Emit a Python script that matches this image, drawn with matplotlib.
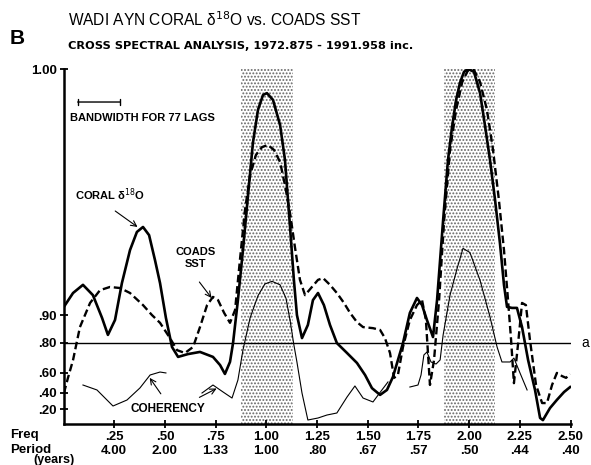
import numpy as np
import matplotlib
matplotlib.use("Agg")
import matplotlib.pyplot as plt

plt.rcParams['font.family'] = ['Liberation Sans', 'DejaVu Sans']
plt.rcParams['hatch.color'] = '#555555'
plt.rcParams['hatch.linewidth'] = 0.9

# ---------------- data ----------------
coral_f = [0.002, 0.047, 0.096, 0.145, 0.190, 0.219, 0.254, 0.288, 0.328, 0.362, 0.392, 0.422, 0.451,
           0.476, 0.505, 0.535, 0.565, 0.614, 0.673, 0.737, 0.772, 0.796, 0.821, 0.836, 0.860, 0.885,
           0.910, 0.934, 0.959, 0.984, 1.003, 1.033, 1.068, 1.092, 1.117, 1.136, 1.151, 1.176, 1.205,
           1.230, 1.255, 1.284, 1.314, 1.348, 1.398, 1.447, 1.487, 1.521, 1.561, 1.595, 1.624, 1.649,
           1.674, 1.708, 1.743, 1.768, 1.792, 1.822, 1.842, 1.872, 1.896, 1.916, 1.936, 1.955, 1.975,
           1.995, 2.024, 2.054, 2.078, 2.103, 2.128, 2.152, 2.172, 2.187, 2.211, 2.236, 2.261, 2.291,
           2.325, 2.350, 2.364, 2.399, 2.433, 2.468, 2.498]
coral_p = [0.330, 0.369, 0.392, 0.363, 0.299, 0.251, 0.293, 0.397, 0.490, 0.541, 0.555, 0.532, 0.462,
           0.397, 0.299, 0.217, 0.189, 0.197, 0.203, 0.189, 0.166, 0.141, 0.175, 0.228, 0.349, 0.490,
           0.645, 0.792, 0.885, 0.927, 0.932, 0.913, 0.842, 0.744, 0.555, 0.406, 0.307, 0.242, 0.279,
           0.349, 0.369, 0.335, 0.279, 0.228, 0.200, 0.172, 0.138, 0.101, 0.082, 0.096, 0.132, 0.180,
           0.228, 0.313, 0.355, 0.335, 0.293, 0.245, 0.349, 0.575, 0.744, 0.837, 0.913, 0.961, 0.992,
           1.000, 0.992, 0.932, 0.842, 0.744, 0.631, 0.510, 0.392, 0.330, 0.327, 0.327, 0.273, 0.180,
           0.096, 0.017, 0.011, 0.045, 0.068, 0.090, 0.104]

sst_f = [0.002, 0.022, 0.047, 0.081, 0.131, 0.180, 0.229, 0.279, 0.328, 0.392, 0.436, 0.476, 0.525,
         0.560, 0.599, 0.639, 0.673, 0.708, 0.737, 0.762, 0.792, 0.821, 0.846, 0.870, 0.895, 0.920,
         0.949, 0.979, 1.008, 1.038, 1.068, 1.092, 1.117, 1.141, 1.166, 1.191, 1.225, 1.255, 1.280,
         1.314, 1.348, 1.383, 1.413, 1.447, 1.477, 1.526, 1.561, 1.585, 1.610, 1.630, 1.649, 1.674,
         1.708, 1.743, 1.768, 1.787, 1.807, 1.827, 1.852, 1.877, 1.906, 1.936, 1.966, 1.995, 2.024,
         2.054, 2.088, 2.118, 2.147, 2.172, 2.192, 2.207, 2.221, 2.241, 2.261, 2.280, 2.300, 2.330,
         2.360, 2.384, 2.409, 2.433, 2.458, 2.478, 2.498]
sst_p = [0.087, 0.130, 0.180, 0.273, 0.341, 0.377, 0.386, 0.383, 0.369, 0.335, 0.307, 0.285, 0.242,
         0.208, 0.200, 0.217, 0.273, 0.335, 0.358, 0.349, 0.313, 0.285, 0.321, 0.462, 0.603, 0.701,
         0.758, 0.780, 0.786, 0.772, 0.738, 0.673, 0.594, 0.499, 0.406, 0.363, 0.386, 0.406, 0.411,
         0.392, 0.369, 0.341, 0.313, 0.287, 0.273, 0.270, 0.265, 0.242, 0.200, 0.130, 0.138, 0.217,
         0.293, 0.335, 0.349, 0.293, 0.110, 0.180, 0.349, 0.575, 0.772, 0.885, 0.963, 0.997, 0.997,
         0.963, 0.885, 0.772, 0.631, 0.490, 0.349, 0.237, 0.115, 0.223, 0.341, 0.335, 0.237, 0.110,
         0.059, 0.059, 0.110, 0.144, 0.135, 0.130, 0.141]

coh1_f = [0.096, 0.165, 0.244, 0.313, 0.377, 0.427, 0.476, 0.505]
coh1_c = [0.484, 0.431, 0.239, 0.314, 0.453, 0.581, 0.607, 0.599]

coh2_f = [0.683, 0.737, 0.787, 0.831, 0.860, 0.885, 0.920, 0.959, 0.993, 1.028, 1.068, 1.097, 1.117,
          1.136, 1.151, 1.176, 1.205, 1.255, 1.299, 1.348, 1.398, 1.437, 1.477, 1.526, 1.570, 1.600]
coh2_c = [0.397, 0.484, 0.408, 0.338, 0.534, 0.763, 0.893, 0.940, 0.956, 0.959, 0.955, 0.936, 0.887,
          0.790, 0.686, 0.397, 0.054, 0.081, 0.121, 0.148, 0.350, 0.474, 0.338, 0.290, 0.431, 0.515]

coh3_f = [1.708, 1.748, 1.763, 1.777, 1.792, 1.812, 1.837, 1.857, 1.872, 1.906, 1.941, 1.970, 2.004,
          2.054, 2.103, 2.138, 2.162, 2.202, 2.221, 2.251, 2.286]
coh3_c = [0.463, 0.484, 0.581, 0.733, 0.751, 0.686, 0.671, 0.700, 0.836, 0.941, 0.971, 0.983, 0.981,
          0.960, 0.896, 0.779, 0.686, 0.686, 0.713, 0.599, 0.431]

bands = [(0.874, 1.130), (1.876, 2.128)]
signif_level = 0.80
coh_ticks = [0.20, 0.40, 0.60, 0.80, 0.90]
coh_ticklabels = ['.20', '.40', '.60', '.80', '.90']
freq_ticks = [0.25, 0.50, 0.75, 1.00, 1.25, 1.50, 1.75, 2.00, 2.25, 2.50]
freq_labels = ['.25', '.50', '.75', '1.00', '1.25', '1.50', '1.75', '2.00', '2.25', '2.50']
period_labels = ['4.00', '2.00', '1.33', '1.00', '.80', '.67', '.57', '.50', '.44', '.40']

# coherency is drawn on an arctanh (z) scale; top of plot = spectral 1.00
ZTOP = 4.81
def cz(c):
    return np.arctanh(np.asarray(c)) / ZTOP

# ---------------- figure ----------------
fig = plt.figure(figsize=(5.91, 4.65), dpi=100)
ax = fig.add_axes([63.5 / 591, 41 / 465, 507 / 591, 355 / 465])
ax.set_xlim(0, 2.5)
ax.set_ylim(0, 1.0)

for (a, b) in bands:
    ax.fill_between([a, b], 0, 1.0, facecolor='white', edgecolor='#666666',
                    hatch='.....', linewidth=0, zorder=0)

ax.axhline(cz(signif_level), xmin=0, xmax=1.0, color='black', lw=1.0, zorder=2)
ax.text(2.555, cz(signif_level), 'a', fontsize=10, va='center', ha='left', clip_on=False)

ax.plot(coral_f, coral_p, color='black', lw=1.9, zorder=4, solid_joinstyle='round')
ax.plot(sst_f, sst_p, color='black', lw=1.7, ls=(0, (3.2, 1.6)), zorder=4)
for f, c in [(coh1_f, coh1_c), (coh2_f, coh2_c), (coh3_f, coh3_c)]:
    ax.plot(f, cz(c), color='black', lw=0.8, zorder=3)

# axes styling
for s in ['top', 'right']:
    ax.spines[s].set_visible(False)
ax.spines['left'].set_linewidth(1.8)
ax.spines['bottom'].set_linewidth(1.8)

ax.set_xticks(freq_ticks)
ax.set_xticklabels([f + '\n' + p for f, p in zip(freq_labels, period_labels)],
                   fontsize=9.5, fontweight='bold', linespacing=1.2)
yt = list(cz(coh_ticks)) + [1.0]
ax.set_yticks(yt)
ax.set_yticklabels(coh_ticklabels + ['1.00'], fontsize=9.5, fontweight='bold')
ax.tick_params(axis='both', direction='inout', length=6, width=1.3, pad=2)

# left labels below the axis
fig.text(10 / 591, 1 - 435 / 465, 'Freq', fontsize=9.5, fontweight='bold', va='center')
fig.text(10 / 591, 1 - 450 / 465, 'Period', fontsize=9.5, fontweight='bold', va='center')
fig.text(33 / 591, 1 - 460 / 465, '(years)', fontsize=9, fontweight='bold', va='center')

# titles
fig.text(10 / 591, 1 - 38 / 465, 'B', fontsize=15, fontweight='bold', va='center')
fig.text(68 / 591, 1 - 20 / 465, 'WADI AYN CORAL δ$^{18}$O vs. COADS SST', fontsize=11.2, va='center')
fig.text(68 / 591, 1 - 46 / 465, 'CROSS SPECTRAL ANALYSIS, 1972.875 - 1991.958 inc.',
         fontsize=8.2, fontweight='bold', va='center', family='DejaVu Sans')

# bandwidth bar
ax.annotate('', xy=(0.07, 0.907), xytext=(0.28, 0.907),
            arrowprops=dict(arrowstyle='|-|, widthA=0.25, widthB=0.25', lw=1.0, color='black',
                            shrinkA=0, shrinkB=0))
ax.text(0.03, 0.862, 'BANDWIDTH FOR 77 LAGS', fontsize=8, fontweight='bold', va='center')

# labels with arrows
ax.text(0.055, 0.645, 'CORAL δ$^{18}$O', fontsize=8, fontweight='bold', va='center')
ax.annotate('', xy=(0.365, 0.555), xytext=(0.255, 0.60),
            arrowprops=dict(arrowstyle='->', lw=0.8, color='black', shrinkA=0, shrinkB=0))
ax.text(0.65, 0.467, 'COADS\nSST', fontsize=8, fontweight='bold', va='center', ha='center',
        linespacing=1.2)
ax.annotate('', xy=(0.73, 0.355), xytext=(0.67, 0.40),
            arrowprops=dict(arrowstyle='->', lw=0.8, color='black', shrinkA=0, shrinkB=0))
ax.text(0.33, 0.042, 'COHERENCY', fontsize=8.5, fontweight='bold', va='center')
ax.annotate('', xy=(0.425, 0.13), xytext=(0.48, 0.085),
            arrowprops=dict(arrowstyle='->', lw=0.8, color='black', shrinkA=0, shrinkB=0))
ax.annotate('', xy=(0.755, 0.10), xytext=(0.67, 0.075),
            arrowprops=dict(arrowstyle='->', lw=0.8, color='black', shrinkA=0, shrinkB=0))

fig.savefig('out.png', dpi=100)
